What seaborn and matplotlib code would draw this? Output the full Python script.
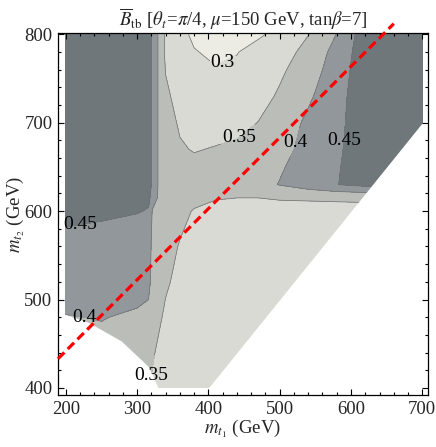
import numpy as np
import matplotlib
matplotlib.use("Agg")
import matplotlib.pyplot as plt
import seaborn as sns

# B_tb on a (m_t2, m_t1) grid
m_t1 = [200, 250, 300, 316, 322, 330, 340, 360, 380, 410, 440, 470, 500, 540, 580, 610, 650, 700]
m_t2 = [400, 440, 480, 520, 560, 600, 615, 630, 650, 670, 700, 730, 760, 780, 800]
btb = [
    [.375, .375, .365, .352, .345, .340, .338, .335, .333, .333, .333, .333, .333, .333, .333, .333, .333, .333],
    [.385, .385, .375, .362, .353, .345, .340, .336, .333, .333, .333, .333, .333, .333, .333, .333, .333, .333],
    [.398, .402, .393, .385, .372, .355, .345, .338, .335, .333, .333, .333, .333, .333, .333, .333, .333, .333],
    [.425, .425, .420, .415, .380, .370, .354, .342, .337, .334, .333, .333, .333, .333, .333, .333, .333, .333],
    [.435, .430, .425, .422, .385, .375, .367, .347, .340, .336, .334, .333, .333, .334, .335, .335, .335, .335],
    [.462, .458, .452, .448, .390, .375, .370, .362, .347, .340, .338, .336, .336, .337, .338, .338, .340, .340],
    [.470, .470, .465, .455, .440, .390, .378, .370, .362, .352, .350, .350, .353, .354, .355, .356, .360, .360],
    [.470, .470, .470, .460, .445, .395, .382, .375, .372, .372, .374, .385, .402, .425, .449, .460, .470, .470],
    [.470, .470, .470, .460, .445, .395, .380, .368, .362, .362, .365, .375, .395, .420, .447, .463, .470, .470],
    [.470, .470, .470, .460, .445, .395, .375, .355, .347, .353, .360, .370, .385, .415, .445, .462, .470, .470],
    [.470, .470, .470, .460, .445, .395, .370, .344, .335, .330, .334, .351, .370, .410, .440, .465, .470, .470],
    [.470, .470, .470, .460, .445, .395, .358, .335, .325, .318, .320, .333, .356, .392, .435, .466, .470, .470],
    [.470, .470, .470, .460, .445, .395, .348, .326, .312, .303, .305, .318, .342, .375, .425, .465, .470, .470],
    [.470, .470, .470, .460, .445, .395, .340, .320, .303, .290, .299, .310, .333, .362, .418, .462, .470, .470],
    [.470, .470, .470, .460, .445, .395, .340, .315, .290, .280, .283, .296, .308, .349, .401, .458, .470, .470],
]

fill_levels = [0.2, 0.3, 0.35, 0.4, 0.45, 0.6]
line_levels = [0.3, 0.35, 0.4, 0.45]
shades = ["#ececE5", "#d9dad3", "#babdb8", "#91979a", "#6f777b"]

# excluded corner at low masses
cut_m1 = [200, 232, 278, 316, 330]
cut_m2 = [483, 474, 453, 424, 399]

# red dashed reference line
ref_m1 = [189, 660]
ref_m2 = [433, 812]

# where the contour labels sit
label_pos = [(424, 761), (442, 685), (529, 676), (596, 679),
             (221, 579), (224, 472), (330, 413)]

sns.set_theme(style="ticks")
plt.rcParams["font.family"] = ["Liberation Serif", "DejaVu Serif"]
plt.rcParams["mathtext.fontset"] = "stix"

fig = plt.figure(figsize=(4.36, 4.47), dpi=100)
ax = fig.add_axes([58 / 436, 1 - 395 / 447, 370 / 436, 362 / 447])

X, Y = np.meshgrid(m_t1, m_t2)
Z = np.array(btb)

ax.contourf(X, Y, Z, levels=fill_levels, colors=shades, zorder=1)
cs = ax.contour(X, Y, Z, levels=line_levels, colors="#707070",
                linewidths=0.5, zorder=1.5)

# m_t2 < m_t1 and the low-mass corner are not part of the scan
diag = np.array([380, 720])
ax.fill_between(diag, 380, diag, color="white", lw=0, zorder=2)
ax.fill_between([185] + cut_m1, 380, [cut_m2[0]] + cut_m2,
                color="white", lw=0, zorder=2)

labels = ax.clabel(cs, line_levels, manual=label_pos, inline=True,
                   inline_spacing=2, fontsize=14, colors="black",
                   fmt=lambda v: f"{v:g}")
for t in labels:
    t.set_rotation(0)
    t.set_zorder(5)

sns.lineplot(x=ref_m1, y=ref_m2, ax=ax, color="#ff0000", lw=2.3,
             linestyle=(0, (2.8, 1.5)), clip_on=False, zorder=4)

ax.set_xlim(189, 708)
ax.set_ylim(392, 801.5)
ax.set_xticks([200, 300, 400, 500, 600, 700])
ax.set_yticks([400, 500, 600, 700, 800])
ax.set_xticks(np.arange(200, 701, 20), minor=True)
ax.set_yticks(np.arange(400, 801, 20), minor=True)
ax.set_axisbelow(False)
ax.tick_params(which="both", direction="in", top=True, right=True,
               color="black", width=0.8, labelsize=13.5, pad=4)
ax.tick_params(which="major", length=4.5)
ax.tick_params(which="minor", length=2.2)
for s in ax.spines.values():
    s.set_color("black")
    s.set_linewidth(0.9)

ax.set_xlabel(r"$m_{t_1}$ (GeV)", fontsize=13.5)
ax.set_ylabel(r"$m_{t_2}$ (GeV)", fontsize=13.5)
ax.xaxis.set_label_coords(0.5, -0.064)
ax.yaxis.set_label_coords(-0.085, 0.5)
ax.set_title(r"$\overline{B}_{\rm tb}$ [$\theta_t$=$\pi$/4, $\mu$=150 GeV, tan$\beta$=7]",
             fontsize=13.5, pad=5)

fig.savefig("out.png", dpi=100)
